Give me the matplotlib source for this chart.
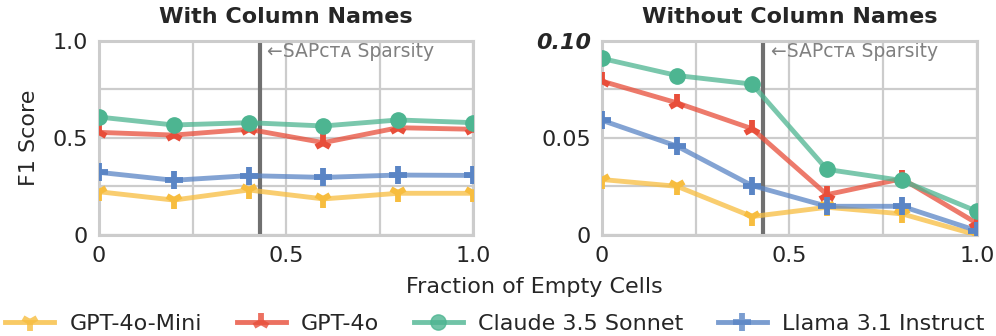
import matplotlib
matplotlib.use("Agg")
import matplotlib.pyplot as plt
from matplotlib.lines import Line2D

x = [0.0, 0.2, 0.4, 0.6, 0.8, 1.0]
models = ["GPT-4o-Mini", "GPT-4o", "Claude 3.5 Sonnet", "Llama 3.1 Instruct"]

with_names = {
    "GPT-4o-Mini": [0.223, 0.180, 0.232, 0.186, 0.215, 0.215],
    "GPT-4o": [0.529, 0.515, 0.545, 0.476, 0.553, 0.545],
    "Claude 3.5 Sonnet": [0.608, 0.567, 0.579, 0.562, 0.593, 0.579],
    "Llama 3.1 Instruct": [0.323, 0.282, 0.306, 0.297, 0.309, 0.307],
}
without_names = {
    "GPT-4o-Mini": [0.0286, 0.0251, 0.0095, 0.0143, 0.0109, 0.0000],
    "GPT-4o": [0.0793, 0.0681, 0.0548, 0.0208, 0.0290, 0.0060],
    "Claude 3.5 Sonnet": [0.0910, 0.0822, 0.0778, 0.0338, 0.0281, 0.0122],
    "Llama 3.1 Instruct": [0.0591, 0.0458, 0.0255, 0.0148, 0.0148, 0.0022],
}
sparsity = 0.43

colors = {
    "GPT-4o-Mini": "#F7BD3F",
    "GPT-4o": "#E84E3A",
    "Claude 3.5 Sonnet": "#4DB591",
    "Llama 3.1 Instruct": "#5A85C5",
}
markers = {
    "GPT-4o-Mini": "1",
    "GPT-4o": "2",
    "Claude 3.5 Sonnet": "o",
    "Llama 3.1 Instruct": "+",
}

plt.rcParams['font.family'] = ['DejaVu Sans']
fig = plt.figure(figsize=(9.96, 3.36), dpi=100)
ax1 = fig.add_axes([0.0994, 0.3006, 0.3755, 0.5774])
ax2 = fig.add_axes([0.6044, 0.3006, 0.3765, 0.5774])

grid_c = "#cccccc"
txt_c = "#262626"

def style(ax, ymax, yticks, ylabels, title):
    ax.set_xlim(0, 1)
    ax.set_ylim(0, ymax)
    ax.set_xticks([0, 0.25, 0.5, 0.75, 1.0])
    ax.set_xticklabels(["0", "", "0.5", "", "1.0"])
    ax.set_yticks(yticks)
    ax.set_yticklabels(ylabels)
    ax.tick_params(axis='both', length=0, labelsize=16, colors=txt_c, pad=8)
    ax.grid(True, color=grid_c, linewidth=1.6)
    ax.set_axisbelow(True)
    for s in ax.spines.values():
        s.set_color(grid_c)
        s.set_linewidth(2.2)
    ax.set_title(title, fontsize=16, fontweight='bold', color=txt_c, pad=13)
    ax.axvline(sparsity, color="#707070", linewidth=3, zorder=1.5)
    ax.text(sparsity + 0.02, 0.945 * ymax, "←SAPᴄᴛᴀ Sparsity", fontsize=13.5,
            color="#808080", va='center', ha='left', zorder=1.6)

style(ax1, 1.0, [0, 0.25, 0.5, 0.75, 1.0], ["0", "", "0.5", "", "1.0"], "With Column Names")
style(ax2, 0.10, [0, 0.025, 0.05, 0.075, 0.10], ["0", "", "0.05", "", "0.10"], "Without Column Names")
lab = ax2.get_yticklabels()[-1]
lab.set_fontweight('bold')
lab.set_fontstyle('italic')
ax1.set_ylabel("F1 Score", fontsize=16, color=txt_c, labelpad=10)

handles = []
for ax, data in [(ax1, with_names), (ax2, without_names)]:
    for m in models:
        ms = 11 if markers[m] == "o" else 12.5
        mew = 1 if markers[m] == "o" else 4.2
        ax.plot(x, data[m], color=colors[m], linewidth=3.5, alpha=0.75,
                zorder=3, clip_on=True)
        ax.plot(x, data[m], linestyle='none', marker=markers[m], markersize=ms,
                markeredgewidth=mew, color=colors[m], zorder=4, clip_on=True)
        if ax is ax1:
            handles.append(Line2D([], [], color=colors[m], linewidth=3.5, alpha=0.8,
                                  marker=markers[m], markersize=ms, markeredgewidth=mew,
                                  label=m))

fig.text(0.537, 0.145, "Fraction of Empty Cells", ha='center', va='center',
         fontsize=16, color=txt_c)
fig.legend(handles=handles, loc='center', bbox_to_anchor=(0.497, 0.035), ncol=4,
           frameon=False, fontsize=16, handlelength=2.2, columnspacing=1.55,
           handletextpad=0.7, labelcolor=txt_c)

fig.savefig("out.png", dpi=100)
